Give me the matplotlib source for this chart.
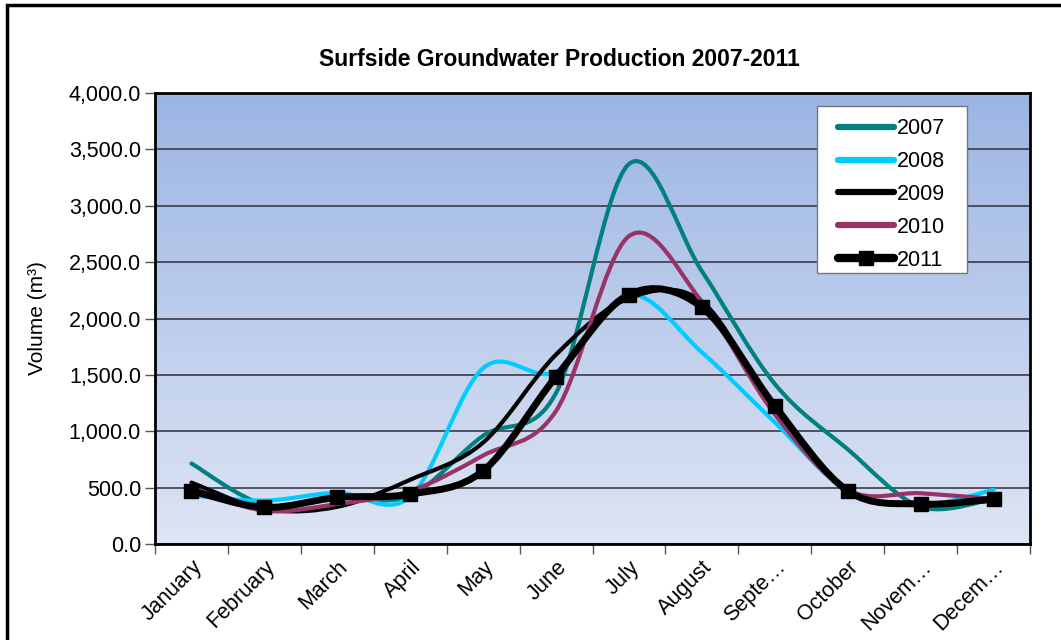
import numpy as np
import matplotlib
matplotlib.use("Agg")
import matplotlib.pyplot as plt
from matplotlib.path import Path
from matplotlib.patches import PathPatch, Rectangle
from matplotlib.lines import Line2D

plt.rcParams['font.family'] = ['Liberation Sans', 'DejaVu Sans']

# Data
months = ["January", "February", "March", "April", "May", "June", "July",
          "August", "Septe\u2026", "October", "Novem\u2026", "Decem\u2026"]
v2007 = [714, 350, 410, 430, 960, 1340, 3370, 2420, 1420, 840, 330, 400]
v2008 = [430, 385, 455, 420, 1560, 1530, 2210, 1700, 1080, 470, 345, 480]
v2009 = [545, 310, 330, 570, 900, 1680, 2180, 2150, 1190, 470, 360, 385]
v2010 = [500, 295, 355, 470, 785, 1180, 2730, 2150, 1150, 480, 450, 400]
v2011 = [472, 325, 413, 442, 649, 1484, 2212, 2100, 1224, 472, 354, 398]

series = [("2007", v2007, "#008080", 3.0),
          ("2008", v2008, "#00CCFF", 3.0),
          ("2009", v2009, "#000000", 3.0),
          ("2010", v2010, "#993366", 3.0),
          ("2011", v2011, "#000000", 5.0)]


# Excel style smoothed line (bezier through every point)
def smooth_path(x, y):
    x = np.asarray(x, float)
    y = np.asarray(y, float)
    n = len(x)
    verts = [(x[0], y[0])]
    codes = [Path.MOVETO]
    for i in range(n - 1):
        p0 = max(i - 1, 0)
        p3 = min(i + 2, n - 1)
        c1 = (x[i] + (x[i + 1] - x[p0]) / 6, y[i] + (y[i + 1] - y[p0]) / 6)
        c2 = (x[i + 1] - (x[p3] - x[i]) / 6, y[i + 1] - (y[p3] - y[i]) / 6)
        verts += [c1, c2, (x[i + 1], y[i + 1])]
        codes += [Path.CURVE4] * 3
    return Path(verts, codes)


fig = plt.figure(figsize=(10.61, 6.4), dpi=100)
ax = fig.add_axes([155 / 1061, 96 / 640, 875 / 1061, 451 / 640])

# gradient background
grad = np.linspace(0, 1, 256).reshape(-1, 1)
cmap = matplotlib.colors.LinearSegmentedColormap.from_list("bg", ["#DEE5F4", "#9BB5E3"])
ax.imshow(grad, aspect="auto", cmap=cmap, origin="lower",
          extent=[-0.5, 11.5, 0, 4000], zorder=0)

x = np.arange(len(months))
for name, vals, col, lw in series:
    patch = PathPatch(smooth_path(x, vals), facecolor="none", edgecolor=col,
                      lw=lw, capstyle="round", joinstyle="round", zorder=3)
    ax.add_patch(patch)
ax.plot(x, v2011, ls="none", marker="s", ms=10, color="black", zorder=4)

ax.set_xlim(-0.5, 11.5)
ax.set_ylim(0, 4000)
ax.set_yticks(np.arange(0, 4001, 500))
ax.set_yticklabels([f"{v:,.1f}" for v in np.arange(0, 4001, 500)], fontsize=15.5)
ax.set_xticks(x)
ax.set_xticklabels(months, rotation=45, ha="right", rotation_mode="anchor", fontsize=15.5)
ax.set_xticks(np.arange(-0.5, 12, 1), minor=True)
ax.tick_params(axis="x", which="major", length=0, pad=9)
ax.tick_params(axis="x", which="minor", length=7, width=1, color="#555555", direction="out")
ax.tick_params(axis="y", length=7, width=1, color="#555555", direction="out", pad=3)
ax.grid(axis="y", color="#3a3a4a", lw=1.2, zorder=1)
ax.set_axisbelow(False)
for s in ax.spines.values():
    s.set_linewidth(2)
    s.set_color("black")
    s.set_zorder(5)

ax.set_ylabel("Volume (m\u00b3)", fontsize=15, labelpad=16)
fig.text(559 / 1061, 1 - 59 / 640, "Surfside Groundwater Production 2007-2011",
         ha="center", va="center", fontsize=16.5, fontweight="bold")

# legend box drawn separately (Excel pads it more on the sides)
ax.add_patch(Rectangle((0.7566, 0.601), 0.1714, 0.370, transform=ax.transAxes,
                       facecolor="white", edgecolor="#777777", lw=1, zorder=6))
handles = []
for name, vals, col, lw in series:
    if name == "2011":
        handles.append(Line2D([], [], color=col, lw=lw + 1, marker="s", ms=10,
                              solid_capstyle="round"))
    else:
        handles.append(Line2D([], [], color=col, lw=lw + 1.5, solid_capstyle="round"))
leg = ax.legend(handles, [s[0] for s in series], loc="upper left",
                bbox_to_anchor=(0.7806, 0.944), fontsize=15.5,
                frameon=False, handlelength=2.6, handletextpad=0.15,
                labelspacing=0.55, borderpad=0, borderaxespad=0)
leg.set_zorder(7)

# chart border
fig.patches.append(Rectangle((7 / 1061, -0.1), 1.2, 1 - 5 / 640 + 0.1,
                             transform=fig.transFigure, fill=False,
                             edgecolor="black", lw=2.5))

fig.savefig("out.png", dpi=100)
